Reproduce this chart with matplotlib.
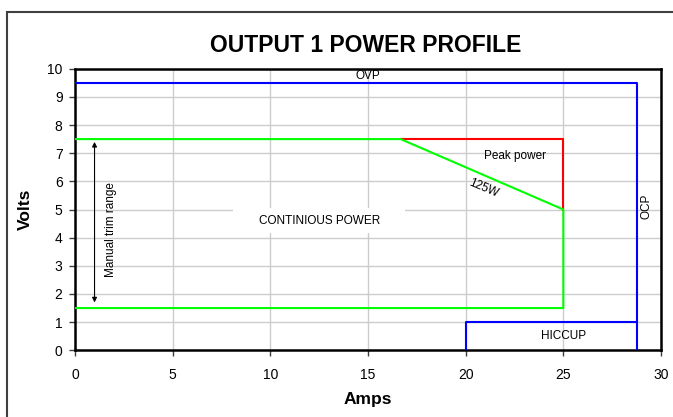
import matplotlib
matplotlib.use("Agg")
import matplotlib.pyplot as plt
from matplotlib.patches import Rectangle

plt.rcParams['font.family'] = ['Liberation Sans', 'DejaVu Sans']

# envelope limits
ovp_amps = [0, 28.75, 28.75]
ovp_volts = [9.5, 9.5, 0]

hiccup_amps = [20, 20, 28.75]
hiccup_volts = [0, 1, 1]

# continuous power region (125 W corner from 16.67 A @ 7.5 V to 25 A @ 5 V)
cont_amps = [0, 16.67, 25, 25, 0]
cont_volts = [7.5, 7.5, 5, 1.5, 1.5]

peak_amps = [16.67, 25, 25]
peak_volts = [7.5, 7.5, 5]

trim_range = [1.7, 7.4]

x_ticks = [0, 5, 10, 15, 20, 25, 30]
y_ticks = list(range(0, 11))

fig = plt.figure(figsize=(6.73, 4.17), dpi=100)
ax = fig.add_axes([75 / 673, 1 - 350.3 / 417, 586 / 673, 281.6 / 417])

# outer chart frame (runs off the right/bottom edge like the original)
fig.patches.append(Rectangle((6.5 / 673, -0.05), 1.1, 1 - 12 / 417 + 0.05,
                             transform=fig.transFigure, fill=False,
                             edgecolor='#404040', linewidth=1.5))

ax.set_xlim(0, 30)
ax.set_ylim(0, 10)
ax.set_xticks(x_ticks)
ax.set_yticks(y_ticks)
ax.grid(True, color='#cccccc', linewidth=1.0)
ax.set_axisbelow(True)

ax.plot(ovp_amps, ovp_volts, color='#0000ff', linewidth=1.5, zorder=3)
ax.plot(hiccup_amps, hiccup_volts, color='#0000ff', linewidth=1.5, zorder=3)
ax.plot(peak_amps, peak_volts, color='#ff0000', linewidth=1.5, zorder=3)
ax.plot(cont_amps, cont_volts, color='#00ff00', linewidth=1.5, zorder=4)

# white label box behind the region name
ax.add_patch(Rectangle((8.1, 4.16), 8.8, 0.88, facecolor='white',
                       edgecolor='none', zorder=2))
ax.text(12.5, 4.59, 'CONTINIOUS POWER', ha='center', va='center',
        fontsize=8.5, zorder=5)

ax.annotate('', xy=(1.0, trim_range[0]), xytext=(1.0, trim_range[1]),
            arrowprops=dict(arrowstyle='<|-|>', color='black', lw=0.8,
                            mutation_scale=7, shrinkA=0, shrinkB=0))
ax.text(1.84, 4.27, 'Manual trim range', rotation=90, ha='center',
        va='center', fontsize=8.5)

ax.text(15, 9.75, 'OVP', ha='center', va='center', fontsize=8.5)
ax.text(22.5, 6.9, 'Peak power', ha='center', va='center', fontsize=8.5)
ax.text(20.9, 5.75, '125W', ha='center', va='center', fontsize=8.5,
        rotation=-23, rotation_mode='anchor')
ax.text(29.27, 5.1, 'OCP', rotation=90, ha='center', va='center',
        fontsize=8.5)
ax.text(25, 0.51, 'HICCUP', ha='center', va='center', fontsize=8.5)

for s in ax.spines.values():
    s.set_linewidth(1.8)
    s.set_color('black')

ax.tick_params(axis='both', direction='out', length=4, width=1,
               labelsize=10, color='#404040')
ax.tick_params(axis='x', pad=9)
ax.tick_params(axis='y', pad=5)

ax.set_xlabel('Amps', fontsize=12.5, fontweight='bold', labelpad=7)
ax.set_ylabel('Volts', fontsize=12.5, fontweight='bold', labelpad=10)

fig.text(366 / 673, 1 - 45 / 417, 'OUTPUT 1 POWER PROFILE', ha='center',
         va='center', fontsize=16.5, fontweight='bold')

fig.savefig('out.png', dpi=100, facecolor='white')
